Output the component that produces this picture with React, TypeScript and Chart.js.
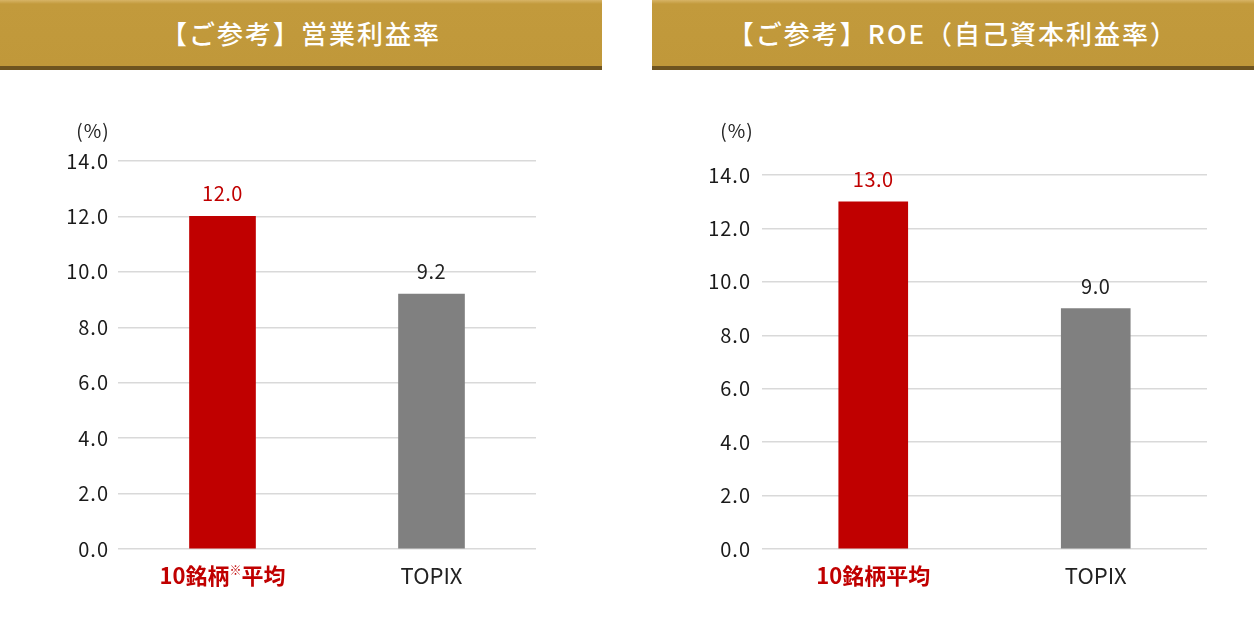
import { useEffect, useRef } from 'react';
import { Chart, registerables } from 'chart.js';

Chart.register(...registerables);

// data
const titles = ['【ご参考】営業利益率', '【ご参考】ROE（自己資本利益率）'];
const marginCategories = ['10銘柄※平均', 'TOPIX'];
const roeCategories = ['10銘柄平均', 'TOPIX'];
const marginValues = [12.0, 9.2];
const roeValues = [13.0, 9.0];
const yTicks = [0, 2, 4, 6, 8, 10, 12, 14];
const unitLabel = '(%)';

const RED = '#C00000';
const GRAY = '#808080';
const FONT = "'Noto Sans CJK JP', 'Noto Sans', sans-serif";

interface PanelProps {
  labels: string[];
  values: number[];
  left: number;
  pad: { left: number; right: number; top: number; bottom: number };
  barWidth: number;
  unitTop: number;
}

// a little extra spacing for the axis numbers
const spacing = {
  id: 'spacing',
  beforeDraw(chart: Chart) {
    (chart.ctx as any).letterSpacing = '1px';
  },
};

// value labels, unit and category labels drawn on top
const annotate = {
  id: 'annotate',
  afterDraw(chart: Chart) {
    const { ctx, chartArea } = chart;
    const meta = chart.getDatasetMeta(0);
    const labels = chart.data.labels as string[];
    const data = chart.data.datasets[0].data as number[];
    ctx.save();
    (ctx as any).letterSpacing = '0.5px';
    ctx.textAlign = 'center';
    ctx.textBaseline = 'alphabetic';
    ctx.font = `400 20px ${FONT}`;
    meta.data.forEach((bar: any, i: number) => {
      ctx.fillStyle = i === 0 ? RED : '#222';
      ctx.fillText(data[i].toFixed(1), bar.x, bar.y - 15);
    });

    // unit
    (ctx as any).letterSpacing = '1px';
    ctx.fillStyle = '#222';
    ctx.font = `400 19px ${FONT}`;
    ctx.textBaseline = 'middle';
    const unitTop = Number(chart.canvas.dataset.unittop);
    ctx.fillText(unitLabel, chartArea.left - 25, chartArea.top - unitTop);

    // category labels
    (ctx as any).letterSpacing = '0px';
    const x = chart.scales.x;
    labels.forEach((lab, i) => {
      const cx = x.getPixelForValue(i);
      const cy = chartArea.bottom + 27;
      const bold = i === 0;
      const main = `${bold ? 700 : 400} 22px ${FONT}`;
      const small = `${bold ? 700 : 400} 12px ${FONT}`;
      ctx.fillStyle = bold ? RED : '#222';
      const parts = lab.split('※');
      ctx.font = main;
      let total = parts.reduce((s, p) => s + ctx.measureText(p).width, 0);
      ctx.font = small;
      const markW = parts.length > 1 ? ctx.measureText('※').width : 0;
      total += markW;
      let px = cx - total / 2;
      ctx.textAlign = 'left';
      ctx.textBaseline = 'middle';
      parts.forEach((p, k) => {
        ctx.font = main;
        ctx.fillText(p, px, cy);
        px += ctx.measureText(p).width;
        if (k < parts.length - 1) {
          ctx.font = small;
          ctx.fillText('※', px, cy - 6);
          px += markW;
        }
      });
    });
    ctx.restore();
  },
};

function BarPanel({ labels, values, left, pad, barWidth, unitTop }: PanelProps) {
  const canvasRef = useRef<HTMLCanvasElement | null>(null);

  useEffect(() => {
    if (!canvasRef.current) return;
    const chart = new Chart(canvasRef.current, {
      type: 'bar',
      data: {
        labels,
        datasets: [
          {
            data: values,
            backgroundColor: [RED, GRAY],
            barThickness: barWidth,
          },
        ],
      },
      options: {
        animation: false,
        responsive: false,
        maintainAspectRatio: false,
        layout: { padding: pad },
        plugins: { legend: { display: false }, tooltip: { enabled: false } },
        scales: {
          x: {
            ticks: { display: false },
            grid: { display: false },
            border: { display: false },
            afterFit: (s: any) => {
              s.height = 40;
            },
          },
          y: {
            min: 0,
            max: 14,
            afterBuildTicks: (s: any) => {
              s.ticks = yTicks.map((v) => ({ value: v }));
            },
            afterFit: (s: any) => {
              s.width = 60;
            },
            ticks: {
              color: '#1a1a1a',
              padding: left > 0 ? 11 : 9,
              font: { family: FONT, size: 20 },
              callback: (v) => Number(v).toFixed(1),
            },
            grid: { color: '#d9d9d9', lineWidth: 1.5, drawTicks: false },
            border: { display: false },
          },
        },
      },
      plugins: [spacing, annotate],
    });
    return () => chart.destroy();
  }, [labels, values]);

  return (
    <canvas
      ref={canvasRef}
      data-unittop={unitTop}
      width={602}
      height={540}
      style={{ position: 'absolute', left, top: 80, width: 602, height: 540 }}
    />
  );
}

function Header({ text, left }: { text: string; left: number }) {
  return (
    <div
      style={{
        position: 'absolute',
        left,
        top: 0,
        width: 602,
        height: 66,
        background: 'linear-gradient(to bottom, #d7b466 0px, #c29a3c 4px, #c0983a 100%)',
        borderBottom: '4px solid #6e5420',
        color: '#fff',
        fontFamily: FONT,
        fontSize: 26,
        fontWeight: 500,
        letterSpacing: 2,
        lineHeight: '66px',
        textAlign: 'center',
      }}
    >
      {text}
    </div>
  );
}

export default function App() {
  return (
    <div style={{ position: 'fixed', left: 0, top: 0, width: 1254, height: 636, background: '#fff' }}>
      <Header text={titles[0]} left={0} />
      <Header text={titles[1]} left={652} />
      <BarPanel
        labels={marginCategories}
        values={marginValues}
        left={0}
        unitTop={30}
        barWidth={66}
        pad={{ left: 58, right: 66, top: 81, bottom: 31 }}
      />
      <BarPanel
        labels={roeCategories}
        values={roeValues}
        left={652}
        unitTop={44}
        barWidth={69}
        pad={{ left: 50, right: 47, top: 95, bottom: 31 }}
      />
    </div>
  );
}
